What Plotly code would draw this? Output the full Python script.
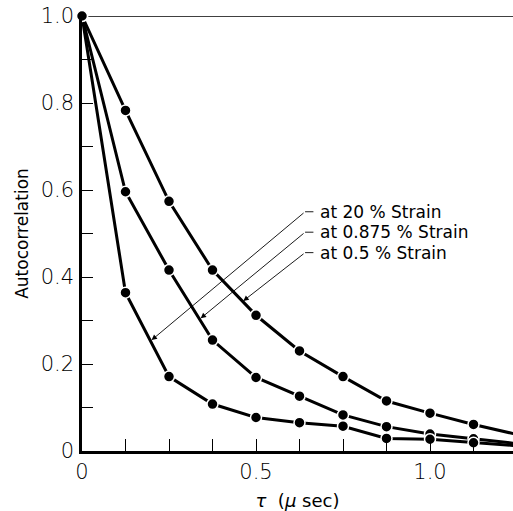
import plotly.graph_objects as go

tau = [0, 0.125, 0.25, 0.375, 0.5, 0.625, 0.75, 0.875, 1.0, 1.125, 1.25]
strain_05 = [1.0, 0.783, 0.574, 0.416, 0.312, 0.230, 0.171, 0.115, 0.087, 0.061, 0.038]
strain_0875 = [1.0, 0.596, 0.416, 0.255, 0.169, 0.126, 0.083, 0.056, 0.039, 0.028, 0.017]
strain_20 = [1.0, 0.364, 0.171, 0.108, 0.077, 0.065, 0.057, 0.029, 0.027, 0.019, 0.012]

labels = ["at 20 % Strain", "at 0.875 % Strain", "at 0.5 % Strain"]
label_y = [0.550, 0.503, 0.456]
arrow_head_x = [0.200, 0.341, 0.4635]
arrow_head_y = [0.255, 0.305, 0.345]

y_tickvals = [0, 0.2, 0.4, 0.6, 0.8, 1.0]
y_ticktext = ["0", "0.2", "0.4", "0.6", "0.8", "1.0"]
x_tickvals = [0, 0.5, 1.0]
x_ticktext = ["0", "0.5", "1.0"]

FONT = "DejaVu Sans"

fig = go.Figure()
for ys in [strain_05, strain_0875, strain_20]:
    fig.add_trace(go.Scatter(
        x=tau, y=ys, mode="lines+markers",
        line=dict(color="black", width=3),
        marker=dict(color="black", size=11, line=dict(color="white", width=1.5)),
        cliponaxis=False, showlegend=False, hoverinfo="skip"))

# horizontal reference line at 1.0
fig.add_shape(type="line", xref="x", yref="y", x0=0, x1=1.3, y0=1.0, y1=1.0,
              line=dict(color="black", width=1.3), layer="below")

tail_x = 0.641
dash_end = 0.665
text_x = 0.678
for lab, ly, hx, hy in zip(labels, label_y, arrow_head_x, arrow_head_y):
    fig.add_annotation(x=hx, y=hy, ax=tail_x, ay=ly, axref="x", ayref="y",
                       xref="x", yref="y", text="", showarrow=True,
                       arrowhead=2, arrowsize=1.2, arrowwidth=0.9, arrowcolor="black")
    fig.add_shape(type="line", xref="x", yref="y", x0=tail_x, x1=dash_end, y0=ly, y1=ly,
                  line=dict(color="black", width=0.9))
    fig.add_annotation(x=text_x, y=ly, xref="x", yref="y", text=lab, showarrow=False,
                       xanchor="left", yanchor="middle",
                       font=dict(family=FONT, size=17, color="black"))

fig.update_layout(
    width=513, height=511,
    margin=dict(l=82, r=0, t=16, b=60),
    plot_bgcolor="white", paper_bgcolor="white",
    font=dict(family=FONT, color="black"),
    xaxis=dict(range=[0, 1.2385], showgrid=False, zeroline=False,
               showline=True, linecolor="black", linewidth=2.5,
               tickmode="array", tickvals=x_tickvals, ticktext=x_ticktext,
               ticks="inside", ticklen=12, tickwidth=1.2, tickcolor="black",
               minor=dict(dtick=0.125, tick0=0, ticks="inside", ticklen=12,
                          tickwidth=1.2, tickcolor="black"),
               tickfont=dict(family=FONT, size=21, weight=300),
               ticklabelstandoff=0,
               title=dict(text="<i>τ</i>  (<i>μ</i> sec)", font=dict(family=FONT, size=18),
                          standoff=12)),
    yaxis=dict(range=[0, 1.0], showgrid=False, zeroline=False,
               showline=True, linecolor="black", linewidth=2.5,
               tickmode="array", tickvals=y_tickvals, ticktext=y_ticktext,
               ticks="inside", ticklen=11, tickwidth=1.2, tickcolor="black",
               minor=dict(dtick=0.1, tick0=0, ticks="inside", ticklen=11,
                          tickwidth=1.2, tickcolor="black"),
               tickfont=dict(family=FONT, size=21, weight=300),
               ticklabelstandoff=1,
               title=dict(text="Autocorrelation", font=dict(family=FONT, size=17),
                          standoff=8)),
)

fig.write_html("out.html")
